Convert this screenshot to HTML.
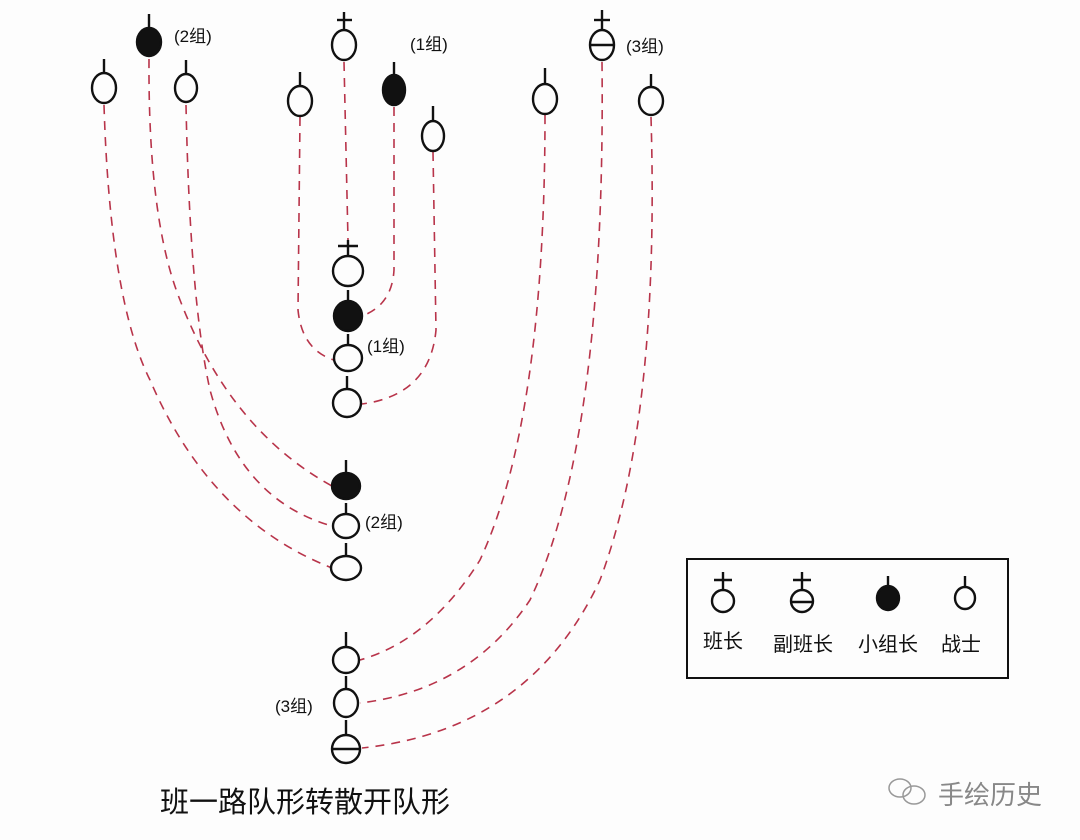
<!DOCTYPE html>
<html><head><meta charset="utf-8"><style>
html,body{margin:0;padding:0;background:#fdfdfd;}
svg{display:block}
text{font-family:"Liberation Sans","Noto Sans CJK SC",sans-serif;fill:#111}
</style></head><body>
<svg width="1080" height="840" viewBox="0 0 1080 840" xmlns="http://www.w3.org/2000/svg">
<rect width="1080" height="840" fill="#fdfdfd"/>
<g fill="none" stroke="#b8344a" stroke-width="1.6" stroke-dasharray="9,7">
<path d="M344 62 L348 240"/>
<path d="M394 107 L394 270 Q392 305 362 316"/>
<path d="M300 117 L298 310 Q302 350 334 360"/>
<path d="M433 152 L436 330 Q430 395 362 404"/>
<path d="M104 105 Q110 300 150 380 Q210 520 332 568"/>
<path d="M149 59 Q148 220 180 300 Q230 430 332 486"/>
<path d="M186 105 Q190 300 210 390 Q240 500 332 526"/>
<path d="M545 115 Q545 420 480 560 Q430 640 360 660"/>
<path d="M602 62 Q606 440 530 600 Q470 690 360 703"/>
<path d="M651 117 Q660 420 600 580 Q530 730 362 748"/>
</g>
<g fill="none" stroke="#111" stroke-width="2.4">
<!-- group 2 top -->
<line x1="149" y1="14" x2="149" y2="28"/><ellipse cx="149" cy="42" rx="12" ry="14" fill="#111"/>
<line x1="104" y1="59" x2="104" y2="73"/><ellipse cx="104" cy="88" rx="12" ry="15"/>
<line x1="186" y1="60" x2="186" y2="74"/><ellipse cx="186" cy="88" rx="11" ry="14"/>
<!-- group 1 top -->
<line x1="344" y1="12" x2="344" y2="30"/><line x1="337" y1="20" x2="352" y2="20"/><ellipse cx="344" cy="45" rx="12" ry="15"/>
<line x1="300" y1="72" x2="300" y2="86"/><ellipse cx="300" cy="101" rx="12" ry="15"/>
<line x1="394" y1="62" x2="394" y2="76"/><ellipse cx="394" cy="90" rx="11" ry="15" fill="#111"/>
<line x1="433" y1="106" x2="433" y2="121"/><ellipse cx="433" cy="136" rx="11" ry="15"/>
<!-- group 3 top -->
<line x1="602" y1="10" x2="602" y2="30"/><line x1="594" y1="20" x2="610" y2="20"/><ellipse cx="602" cy="45" rx="12" ry="15"/><line x1="590" y1="45" x2="614" y2="45"/>
<line x1="545" y1="68" x2="545" y2="84"/><ellipse cx="545" cy="99" rx="12" ry="15"/>
<line x1="651" y1="74" x2="651" y2="87"/><ellipse cx="651" cy="101" rx="12" ry="14"/>
<!-- middle column 1 -->
<line x1="348" y1="240" x2="348" y2="257"/><line x1="338" y1="246" x2="358" y2="246"/><ellipse cx="348" cy="271" rx="15" ry="15"/>
<line x1="348" y1="290" x2="348" y2="302"/><ellipse cx="348" cy="316" rx="14" ry="15" fill="#111"/>
<line x1="348" y1="334" x2="348" y2="344"/><ellipse cx="348" cy="358" rx="14" ry="13"/>
<line x1="347" y1="376" x2="347" y2="388"/><ellipse cx="347" cy="403" rx="14" ry="14"/>
<!-- column 2 -->
<line x1="346" y1="460" x2="346" y2="473"/><ellipse cx="346" cy="486" rx="14" ry="13" fill="#111"/>
<line x1="346" y1="503" x2="346" y2="514"/><ellipse cx="346" cy="526" rx="13" ry="12"/>
<line x1="346" y1="543" x2="346" y2="556"/><ellipse cx="346" cy="568" rx="15" ry="12"/>
<!-- column 3 -->
<line x1="346" y1="632" x2="346" y2="646"/><ellipse cx="346" cy="660" rx="13" ry="13"/>
<line x1="346" y1="676" x2="346" y2="688"/><ellipse cx="346" cy="703" rx="12" ry="14"/>
<line x1="346" y1="720" x2="346" y2="734"/><ellipse cx="346" cy="749" rx="14" ry="14"/><line x1="332" y1="749" x2="360" y2="749"/>
<!-- legend -->
<rect x="687" y="559" width="321" height="119" stroke-width="2"/>
<line x1="723" y1="572" x2="723" y2="590"/><line x1="714" y1="580" x2="732" y2="580"/><ellipse cx="723" cy="601" rx="11" ry="11"/>
<line x1="802" y1="572" x2="802" y2="590"/><line x1="793" y1="580" x2="811" y2="580"/><ellipse cx="802" cy="601" rx="11" ry="11"/><line x1="791" y1="602" x2="813" y2="602"/>
<line x1="888" y1="576" x2="888" y2="588"/><ellipse cx="888" cy="598" rx="11" ry="12" fill="#111"/>
<line x1="965" y1="576" x2="965" y2="588"/><ellipse cx="965" cy="598" rx="10" ry="11"/>
</g>
<g font-size="17">
<text x="174" y="42">(2组)</text>
<text x="410" y="50">(1组)</text>
<text x="626" y="52">(3组)</text>
<text x="367" y="352">(1组)</text>
<text x="365" y="528">(2组)</text>
<text x="275" y="712">(3组)</text>
</g>
<g font-size="20">
<text x="703" y="648">班长</text>
<text x="773" y="651">副班长</text>
<text x="858" y="651">小组长</text>
<text x="941" y="651">战士</text>
</g>
<text x="160" y="812" font-size="29">班一路队形转散开队形</text>
<g fill="none" stroke="#999" stroke-width="1.5"><ellipse cx="900" cy="788" rx="11" ry="9"/><ellipse cx="914" cy="795" rx="11" ry="9"/></g>
<text x="938" y="804" font-size="26" style="fill:#888">手绘历史</text>
</svg>
</body></html>
